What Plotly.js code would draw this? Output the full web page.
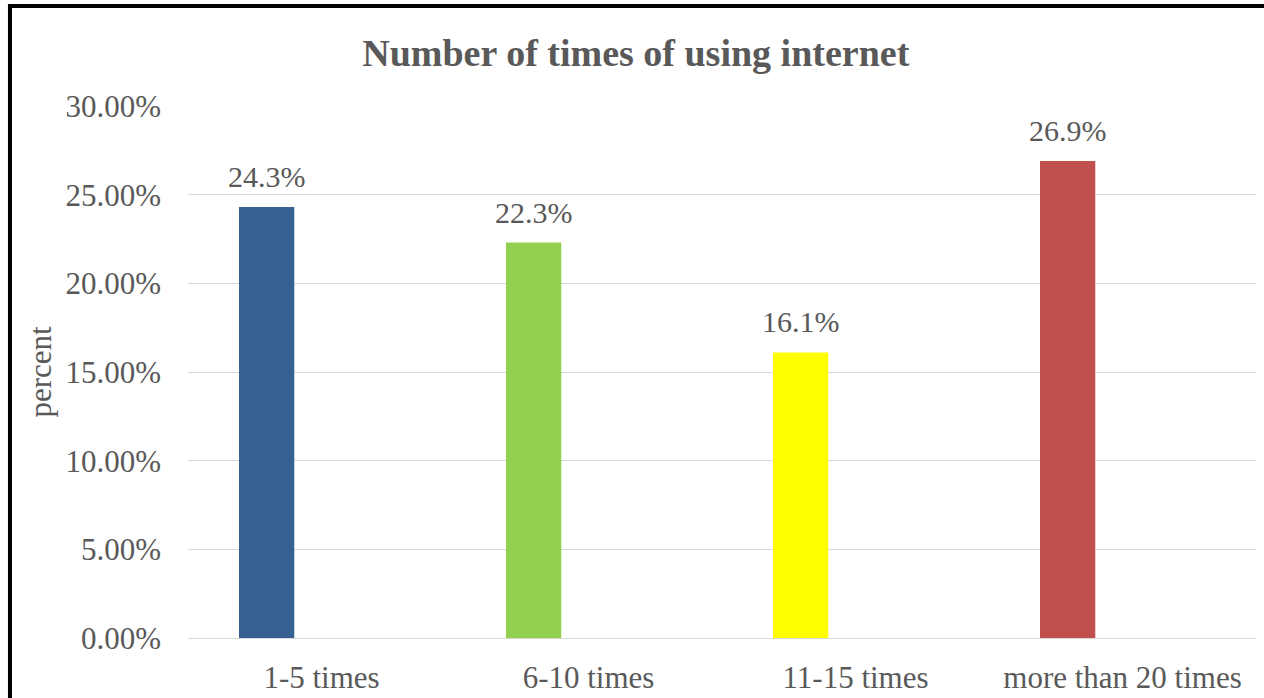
<!DOCTYPE html>
<html>
<head>
<meta charset="utf-8">
<script src="https://cdn.plot.ly/plotly-3.0.1.min.js"></script>
<style>
html,body{margin:0;padding:0;background:#fff;}
#chart{width:1264px;height:698px;}
</style>
</head>
<body>
<div id="chart"></div>
<script>
const categories = ["1-5 times", "6-10 times", "11-15 times", "more than 20 times"];
const percentValues = [24.3, 22.3, 16.1, 26.9];
const barColors = ["#366092", "#92D050", "#FFFF00", "#C0504D"];
const yTickValues = [0, 5, 10, 15, 20, 25, 30];

const textColor = "#595959";
const fontFamily = "'Liberation Serif', 'Times New Roman', serif";
const barWidth = 0.207;
const barOffset = -0.309;

const trace = {
  type: "bar",
  x: categories,
  y: percentValues,
  marker: {color: barColors, line: {width: 0}},
  width: barWidth,
  offset: barOffset,
  hoverinfo: "x+y"
};

const labelAnnotations = percentValues.map((v, i) => ({
  xref: "x", yref: "y",
  x: i + barOffset + barWidth / 2,
  y: v,
  text: v.toFixed(1) + "%",
  showarrow: false,
  xanchor: "center",
  yanchor: "bottom",
  yshift: 12,
  font: {family: fontFamily, size: 30, color: textColor}
}));

const layout = {
  width: 1264,
  height: 698,
  margin: {l: 188, r: 8, t: 106, b: 60},
  paper_bgcolor: "#ffffff",
  plot_bgcolor: "#ffffff",
  showlegend: false,
  font: {family: fontFamily, color: textColor},
  title: {
    text: "<b>Number of times of using internet</b>",
    font: {family: fontFamily, size: 38, color: textColor},
    x: 0.503, xref: "container", xanchor: "center",
    y: 0.925, yref: "container", yanchor: "middle"
  },
  xaxis: {
    type: "category",
    range: [-0.5, 3.5],
    showgrid: false,
    zeroline: false,
    showline: false,
    ticks: "",
    tickfont: {family: fontFamily, size: 31, color: textColor},
    ticklabelstandoff: 18
  },
  yaxis: {
    range: [0, 30],
    tickvals: yTickValues,
    ticktext: yTickValues.map(v => v.toFixed(2) + "%"),
    showgrid: true,
    gridcolor: "#D9D9D9",
    gridwidth: 1,
    zeroline: true,
    zerolinecolor: "#D9D9D9",
    zerolinewidth: 1,
    showline: false,
    ticks: "",
    tickfont: {family: fontFamily, size: 31, color: textColor},
    ticklabelstandoff: 26,
    title: {
      text: "percent",
      font: {family: fontFamily, size: 31, color: textColor},
      standoff: 4
    }
  },
  annotations: labelAnnotations,
  shapes: [
    {type: "rect", xref: "paper", yref: "paper",
     x0: -0.1667, x1: 1.2, y0: -0.3, y1: 1.188,
     line: {color: "#000000", width: 4}, fillcolor: "rgba(0,0,0,0)", layer: "above"}
  ]
};

Plotly.newPlot("chart", [trace], layout, {displayModeBar: false, staticPlot: true});
</script>
</body>
</html>
